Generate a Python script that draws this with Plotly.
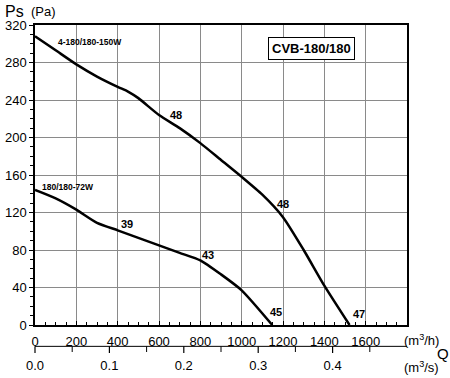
import plotly.graph_objects as go

# Airflow Q (m3/h) and static pressure Ps (Pa)
q_150w = [0, 100, 200, 300, 400, 450, 500, 600, 700, 800, 900, 1000, 1100, 1200, 1300, 1400, 1522]
ps_150w = [308, 293, 278, 265, 254, 249, 242, 224, 210, 194, 176, 158, 139, 115, 80, 42, 0]

q_72w = [0, 100, 200, 300, 400, 500, 600, 700, 800, 900, 1000, 1148]
ps_72w = [144, 135, 123, 109, 101, 93, 85, 77, 69, 54, 37, 0]

x_ticks = [0, 200, 400, 600, 800, 1000, 1200, 1400, 1600]
y_ticks = [0, 40, 80, 120, 160, 200, 240, 280, 320]
x2_range = [0, 0.5]
x2_ticks = [0.0, 0.1, 0.2, 0.3, 0.4]
x2_minor = [0.05, 0.15, 0.25, 0.35, 0.45]

# curve labels: (text, Q, Ps, size)
curve_labels = [
    ("4-180/180-150W", 265, 302, 8.5),
    ("180/180-72W", 159, 147, 8.5),
    ("48", 683, 224, 11),
    ("48", 1200, 129, 11),
    ("39", 446, 108, 11),
    ("43", 837, 75, 11),
    ("45", 1164, 14, 11),
    ("47", 1570, 12, 11),
]

FONT = "Liberation Sans, Arial, sans-serif"

W, H = 450, 378
ml, mr, mt, mb = 35, 43, 25, 31
pw, ph = W - ml - mr, H - mt - mb


def px(xp):
    return (xp - ml) / pw


def py_(yp):
    return (H - mb - yp) / ph


def x2_paper(v):
    return (v - x2_range[0]) / (x2_range[1] - x2_range[0])


fig = go.Figure()
fig.add_trace(go.Scatter(x=q_150w, y=ps_150w, mode="lines",
                         line=dict(color="black", width=2.5, shape="spline", smoothing=0.6),
                         showlegend=False, hoverinfo="skip"))
fig.add_trace(go.Scatter(x=q_72w, y=ps_72w, mode="lines",
                         line=dict(color="black", width=2.5, shape="spline", smoothing=0.6),
                         showlegend=False, hoverinfo="skip"))
# invisible trace so the m3/s axis labels are drawn
fig.add_trace(go.Scatter(x=x2_range, y=[0, 0], xaxis="x2", yaxis="y2", mode="markers",
                         marker=dict(opacity=0), showlegend=False, hoverinfo="skip"))

for text, qx, pv, sz in curve_labels:
    fig.add_annotation(x=qx, y=pv, xref="x", yref="y", text="<b>%s</b>" % text,
                       showarrow=False, font=dict(family=FONT, size=sz, color="black"))

fig.add_annotation(x=px(355), y=py_(37), xref="paper", yref="paper", text="<b>CVB-180/180</b>",
                   showarrow=False, font=dict(family=FONT, size=13, color="black"),
                   bordercolor="black", borderwidth=1, borderpad=3, bgcolor="white")

fig.add_annotation(x=px(3), y=py_(11), xref="paper", yref="paper", text="Ps",
                   showarrow=False, xanchor="left", yanchor="middle",
                   font=dict(family=FONT, size=16, color="black"))
fig.add_annotation(x=px(29), y=py_(12), xref="paper", yref="paper", text="(Pa)",
                   showarrow=False, xanchor="left", yanchor="middle",
                   font=dict(family=FONT, size=13, color="black"))
fig.add_annotation(x=px(421), y=py_(340), xref="paper", yref="paper", text="(m<sup>3</sup>/h)",
                   showarrow=False, xanchor="center", yanchor="middle",
                   font=dict(family=FONT, size=13, color="black"))
fig.add_annotation(x=px(443), y=py_(353), xref="paper", yref="paper", text="Q",
                   showarrow=False, xanchor="center", yanchor="middle",
                   font=dict(family=FONT, size=15, color="black"))
fig.add_annotation(x=px(421), y=py_(367), xref="paper", yref="paper", text="(m<sup>3</sup>/s)",
                   showarrow=False, xanchor="center", yanchor="middle",
                   font=dict(family=FONT, size=13, color="black"))

# m3/s axis line and tick marks (paper-referenced so they are never clipped)
fig.add_shape(type="line", xref="paper", yref="paper", x0=0, x1=1, y0=0.002, y1=0.002,
              line=dict(color="black", width=1), layer="above")
for tv in x2_ticks:
    xp = x2_paper(tv)
    fig.add_shape(type="line", xref="paper", yref="paper", x0=xp, x1=xp, y0=0.002, y1=-6 / ph,
                  line=dict(color="black", width=1.2), layer="above")
for tv in x2_minor:
    xp = x2_paper(tv)
    fig.add_shape(type="line", xref="paper", yref="paper", x0=xp, x1=xp, y0=0.002, y1=-5 / ph,
                  line=dict(color="black", width=1), layer="above")

y_lo = (H - mb - 325) / ph

fig.update_layout(
    width=W, height=H,
    margin=dict(l=ml, r=mr, t=mt, b=mb, autoexpand=False),
    paper_bgcolor="white", plot_bgcolor="white",
    font=dict(family=FONT, size=13, color="black"),
    xaxis=dict(range=[0, 1800], tickvals=x_ticks, anchor="y", automargin=False,
               showgrid=True, gridcolor="#8a8a8a", gridwidth=1,
               showline=True, linecolor="black", linewidth=1.5, mirror=True,
               ticks="inside", ticklen=4, tickcolor="black",
               minor=dict(dtick=50, tick0=0, ticks="inside", ticklen=3, tickcolor="black", showgrid=False),
               ticklabelstandoff=4, zeroline=False,
               tickfont=dict(family=FONT, size=13, color="black")),
    xaxis2=dict(range=x2_range, anchor="y2", domain=[0, 1], side="bottom",
                tickvals=x2_ticks, tickformat=".1f", showgrid=False, zeroline=False,
                automargin=False, showline=False,
                ticks="outside", ticklen=6, tickcolor="rgba(0,0,0,0)",
                tickfont=dict(family=FONT, size=13, color="black")),
    yaxis=dict(range=[0, 320], tickvals=y_ticks, domain=[y_lo, 1], automargin=False,
               showgrid=True, gridcolor="#8a8a8a", gridwidth=1,
               showline=True, linecolor="black", linewidth=1.5, mirror=True,
               ticks="outside", ticklen=4, tickcolor="black",
               minor=dict(dtick=10, tick0=0, ticks="outside", ticklen=3, tickcolor="black", showgrid=False),
               zeroline=False,
               tickfont=dict(family=FONT, size=13, color="black")),
    yaxis2=dict(domain=[0, 0.005], anchor="x2", range=[0, 1], visible=False, automargin=False),
)

fig.write_html("out.html", config={"displayModeBar": False},
               post_script="document.body.style.margin='0';document.body.style.padding='0';")
